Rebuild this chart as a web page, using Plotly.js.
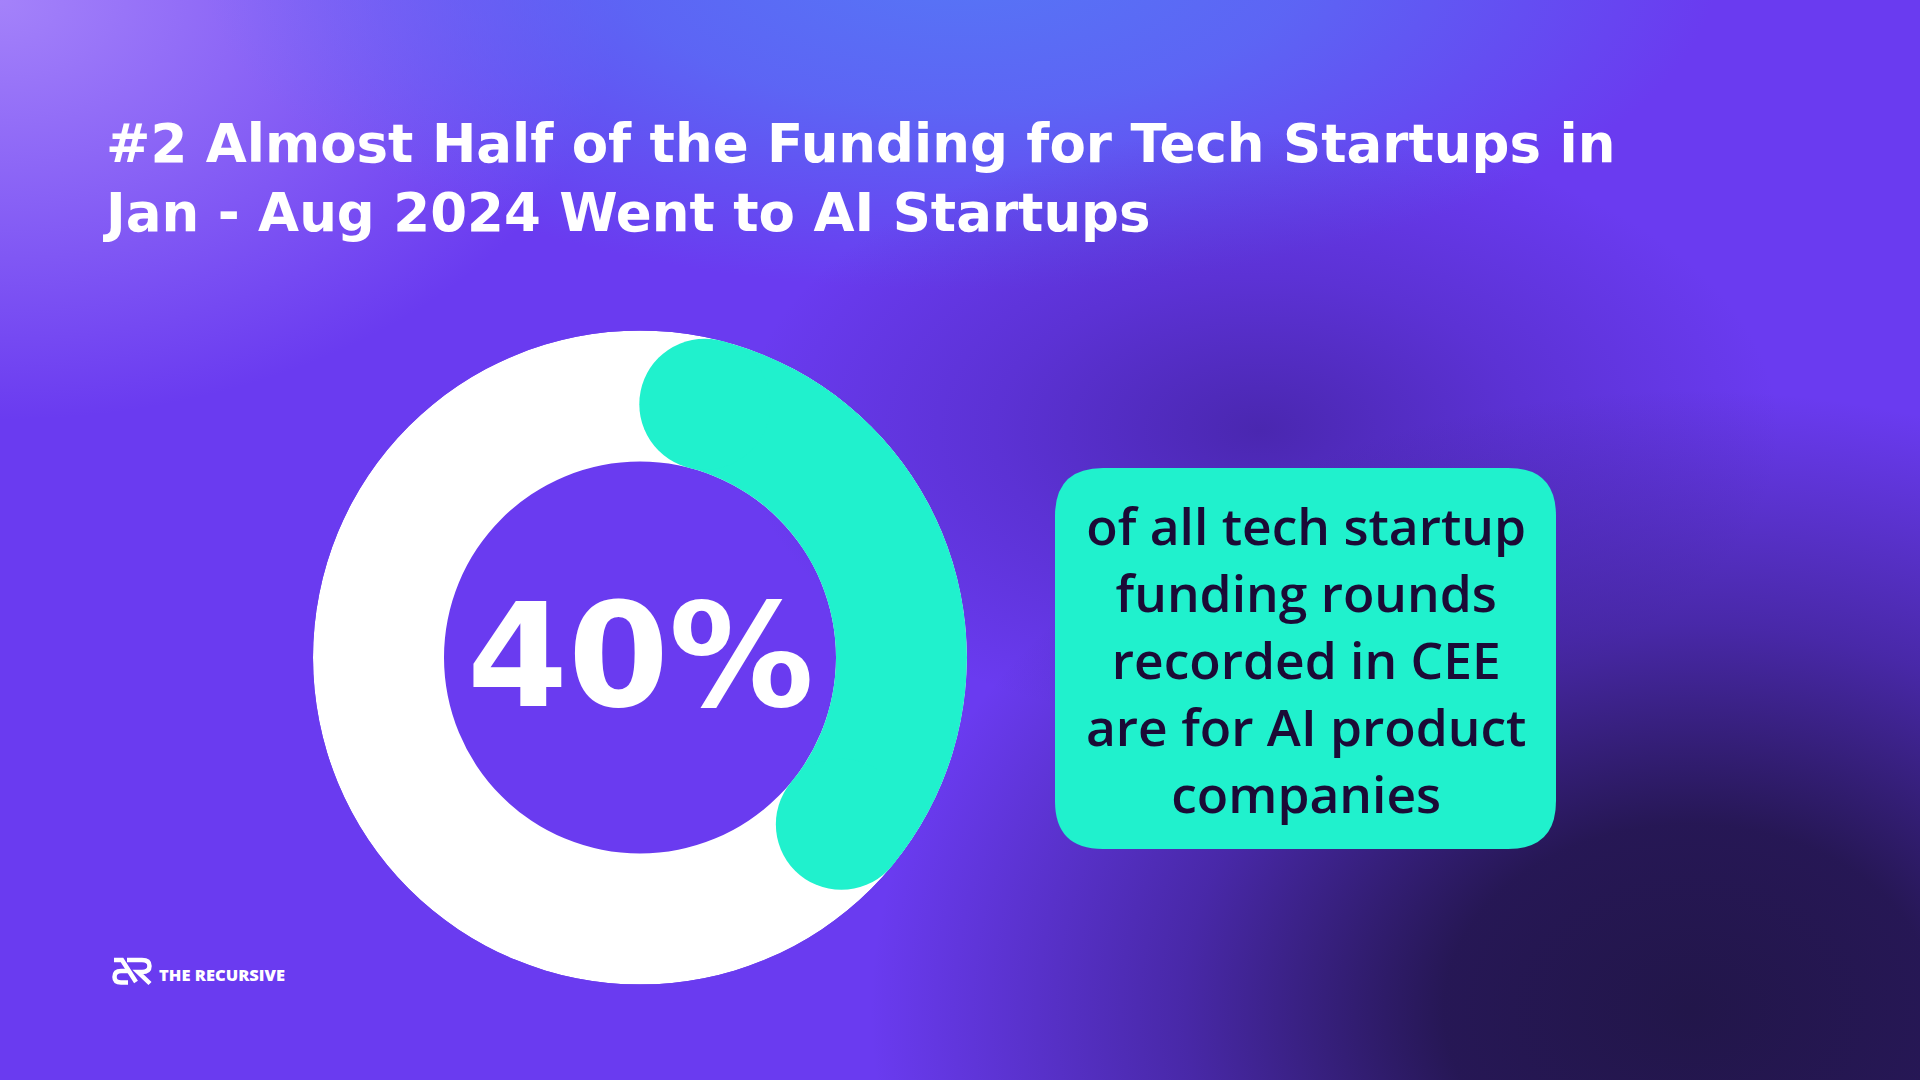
<!DOCTYPE html>
<html>
<head>
<meta charset="utf-8">
<script src="https://cdn.plot.ly/plotly-3.0.1.min.js"></script>
<style>
html,body{margin:0;padding:0;width:1920px;height:1080px;overflow:hidden;background:#6a3bf0;}
#chart{
  width:1920px;height:1080px;
  background:
    radial-gradient(ellipse 820px 620px at 1690px 1010px, rgba(34,22,74,1) 0%, rgba(36,22,80,0.97) 30%, rgba(50,28,120,0.6) 62%, rgba(80,40,200,0) 100%),
    radial-gradient(ellipse 520px 300px at 1260px 430px, rgba(66,34,160,0.8) 0%, rgba(70,36,170,0.4) 50%, rgba(80,40,200,0) 100%),
    radial-gradient(ellipse 760px 330px at 960px -40px, rgba(86,118,246,1) 0%, rgba(88,115,246,0.75) 45%, rgba(95,100,245,0) 100%),
    radial-gradient(ellipse 620px 420px at 0px 0px, rgba(164,130,250,1) 0%, rgba(150,115,248,0.65) 50%, rgba(140,100,246,0) 100%),
    #6a3bf0;
}
</style>
</head>
<body>
<div id="chart"></div>
<script>
// ---- data ----
const aiShare = [40];                 // % of CEE tech startup funding rounds that are AI companies
const track = [100];                  // full track (100 %)
const shareLabel = ['40%'];
const titleLines = ['#2 Almost Half of the Funding for Tech Startups in', 'Jan - Aug 2024 Went to AI Startups'];
const calloutLines = ['of all tech startup', 'funding rounds', 'recorded in CEE', 'are for AI product', 'companies'];
const brandName = ['THE RECURSIVE'];

// ---- styling / geometry ----
const W = 1920, H = 1080;
const TEAL = '#20f1cd';
const FONT = 'Open Sans, Noto Sans, sans-serif';
const WIDE = 'DejaVu Sans, Open Sans, sans-serif';
const OUTER = 327, INNER = 196;
const BAND = OUTER - INNER, MID = (OUTER + INNER) / 2;
const CX = 640, CY = 657.5;
const px = x => x / W;
const py = y => 1 - y / H;

const totalDeg = aiShare[0] / track[0] * 360;
const capDeg = (BAND / 2) / MID * 180 / Math.PI;

const traces = [
  { type: 'barpolar', r: [BAND], base: [INNER], theta: [180], width: [360],
    marker: { color: '#ffffff', line: { width: 0 } }, hoverinfo: 'skip', showlegend: false },
  { type: 'barpolar', r: [BAND], base: [INNER], theta: [totalDeg / 2], width: [totalDeg - 2 * capDeg],
    marker: { color: TEAL, line: { width: 0 } }, hoverinfo: 'skip', showlegend: false },
  { type: 'scatterpolar', mode: 'markers', r: [MID, MID], theta: [capDeg, totalDeg - capDeg],
    marker: { size: BAND, color: TEAL, line: { width: 0 } }, cliponaxis: false,
    hoverinfo: 'skip', showlegend: false }
];

function roundRect(x0, y0, x1, y1, r) {
  const P = (x, y) => px(x).toFixed(6) + ',' + py(y).toFixed(6);
  return 'M' + P(x0 + r, y0) + ' L' + P(x1 - r, y0) + ' Q' + P(x1, y0) + ' ' + P(x1, y0 + r) +
    ' L' + P(x1, y1 - r) + ' Q' + P(x1, y1) + ' ' + P(x1 - r, y1) +
    ' L' + P(x0 + r, y1) + ' Q' + P(x0, y1) + ' ' + P(x0, y1 - r) +
    ' L' + P(x0, y0 + r) + ' Q' + P(x0, y0) + ' ' + P(x0 + r, y0) + ' Z';
}
function pathPx(cmds) {
  return cmds.map(c => c[0] + c.slice(1).map((v, i) => i % 2 === 0 ? px(v).toFixed(6) : py(v).toFixed(6))
    .reduce((s, v, i) => s + (i % 2 === 0 ? (i ? ' ' : '') + v : ',' + v), '')).join(' ');
}

const logoStroke = { color: '#ffffff', width: 4.5 };
const shapes = [
  { type: 'path', xref: 'paper', yref: 'paper', path: roundRect(1055, 468, 1556, 849, 48),
    fillcolor: TEAL, line: { width: 0 } },
  { type: 'path', xref: 'paper', yref: 'paper', line: logoStroke,
    path: pathPx([['M', 114, 960], ['L', 122, 960], ['L', 136, 982]]) },
  { type: 'path', xref: 'paper', yref: 'paper', line: logoStroke,
    path: pathPx([['M', 128, 971], ['L', 121, 971], ['Q', 114.5, 971, 114.5, 977], ['Q', 114.5, 982.5, 121, 982.5], ['L', 128, 982.5]]) },
  { type: 'path', xref: 'paper', yref: 'paper', line: logoStroke,
    path: pathPx([['M', 127, 960], ['L', 142, 960], ['Q', 149.5, 960, 149.5, 966], ['Q', 149.5, 972, 142, 972], ['L', 138, 972], ['L', 150, 983.5]]) }
];

const annotations = [
  { text: shareLabel[0], xref: 'paper', yref: 'paper', x: px(CX), y: py(655),
    xanchor: 'center', yanchor: 'middle', showarrow: false,
    font: { family: WIDE, size: 145, color: '#ffffff', weight: 700 } },
  { text: calloutLines.join('<br>'), xref: 'paper', yref: 'paper', x: px(1305.5), y: py(659),
    xanchor: 'center', yanchor: 'middle', align: 'center', showarrow: false,
    font: { family: FONT, size: 51.5, color: '#1b0b36', weight: 600 } },
  { text: brandName[0], xref: 'paper', yref: 'paper', x: px(157), y: py(974),
    xanchor: 'left', yanchor: 'middle', showarrow: false,
    font: { family: FONT, size: 16.5, color: '#ffffff', weight: 800 } }
];

const layout = {
  width: W, height: H,
  margin: { l: 0, r: 0, t: 0, b: 0, pad: 0 },
  paper_bgcolor: 'rgba(0,0,0,0)', plot_bgcolor: 'rgba(0,0,0,0)',
  showlegend: false,
  title: { text: titleLines.join('<br>'), x: px(106), xanchor: 'left', xref: 'paper',
    y: py(162), yanchor: 'top', yref: 'paper',
    font: { family: WIDE, size: 53, color: '#ffffff', weight: 700 } },
  polar: {
    domain: { x: [px(CX - OUTER), px(CX + OUTER)], y: [py(CY + OUTER), py(CY - OUTER)] },
    bgcolor: 'rgba(0,0,0,0)', barmode: 'overlay', bargap: 0,
    radialaxis: { visible: false, range: [0, OUTER] },
    angularaxis: { visible: false, rotation: 90, direction: 'clockwise' }
  },
  shapes: shapes,
  annotations: annotations
};

Plotly.newPlot('chart', traces, layout, { staticPlot: true, displayModeBar: false });
</script>
</body>
</html>
